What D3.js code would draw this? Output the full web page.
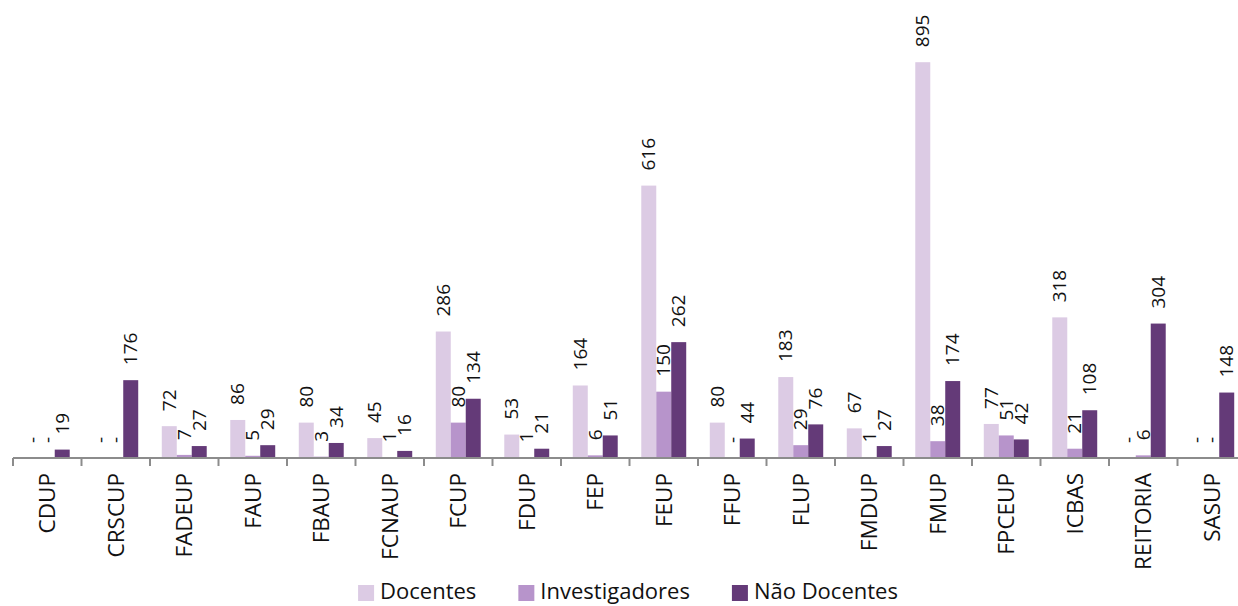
<!DOCTYPE html>
<html>
<head>
<meta charset="utf-8">
<script src="https://cdn.jsdelivr.net/npm/d3@7"></script>
<style>
  body { margin: 0; background: #fff; }
  svg { display: block; font-family: 'Open Sans', sans-serif; }
</style>
</head>
<body>
<svg id="chart" width="1238" height="606"></svg>
<script>
const categories = ['CDUP', 'CRSCUP', 'FADEUP', 'FAUP', 'FBAUP', 'FCNAUP', 'FCUP', 'FDUP', 'FEP',
  'FEUP', 'FFUP', 'FLUP', 'FMDUP', 'FMUP', 'FPCEUP', 'ICBAS', 'REITORIA', 'SASUP']
const seriesNames = ['Docentes', 'Investigadores', 'Não Docentes']
// null = no value, drawn as "-"
const docentes = [null, null, 72, 86, 80, 45, 286, 53, 164, 616, 80, 183, 67, 895, 77, 318, null, null]
const investigadores = [null, null, 7, 5, 3, 1, 80, 1, 6, 150, null, 29, 1, 38, 51, 21, 6, null]
const naoDocentes = [19, 176, 27, 29, 34, 16, 134, 21, 51, 262, 44, 76, 27, 174, 42, 108, 304, 148]
const colors = ['#dccbe4', '#b794cb', '#643a78']

const series = [docentes, investigadores, naoDocentes]
const rows = categories.map((c, i) => ({
  cat: c,
  vals: series.map((s, j) => ({ key: seriesNames[j], value: s[i], j }))
}))

const svg = d3.select('#chart')
const left = 13, bw = 68.5
const x0 = d3.scaleBand()
  .domain(categories)
  .range([left, left + bw * categories.length])
  .padding(0)
const pad = x0.bandwidth() * 0.172
const x1 = d3.scaleBand()
  .domain(seriesNames)
  .range([pad, x0.bandwidth() - pad])
const y = d3.scaleLinear().domain([0, 900]).range([458, 60])

const groups = svg.selectAll('g.cat')
  .data(rows)
  .enter()
  .append('g')
  .attr('class', 'cat')
  .attr('transform', d => `translate(${x0(d.cat)},0)`)

groups.selectAll('rect')
  .data(d => d.vals.filter(v => v.value != null))
  .enter()
  .append('rect')
  .attr('x', d => x1(d.key))
  .attr('width', x1.bandwidth())
  .attr('y', d => y(d.value))
  .attr('height', d => y(0) - y(d.value))
  .attr('fill', d => colors[d.j])

groups.selectAll('text.val')
  .data(d => d.vals)
  .enter()
  .append('text')
  .attr('class', 'val')
  .attr('transform', d => `translate(${x1(d.key) + x1.bandwidth() / 2},${y(d.value || 0) - 15}) rotate(-90)`)
  .attr('dy', '0.35em')
  .style('font-size', '19px')
  .style('fill', '#111')
  .text(d => d.value == null ? '-' : d.value)

// axis
const axis = svg.append('g')
axis.append('line')
  .attr('x1', left).attr('x2', 1238)
  .attr('y1', y(0)).attr('y2', y(0))
  .attr('stroke', '#8c8c8c').attr('stroke-width', 2)
axis.selectAll('line.tick')
  .data(categories)
  .enter()
  .append('line')
  .attr('x1', d => x0(d)).attr('x2', d => x0(d))
  .attr('y1', y(0)).attr('y2', y(0) + 8)
  .attr('stroke', '#8c8c8c').attr('stroke-width', 2)
axis.selectAll('text')
  .data(categories)
  .enter()
  .append('text')
  .attr('transform', d => `translate(${x0(d) + x0.bandwidth() / 2},473) rotate(-90)`)
  .attr('text-anchor', 'end')
  .attr('dy', '0.35em')
  .style('font-size', '22.5px')
  .style('fill', '#111')
  .text(d => d)

// legend
const legend = svg.append('g')
const items = legend.selectAll('g')
  .data(seriesNames)
  .enter()
  .append('g')
items.append('rect')
  .attr('width', 16).attr('height', 16)
  .attr('y', 585)
  .attr('fill', (d, i) => colors[i])
items.append('text')
  .attr('x', 22)
  .attr('y', 599)
  .style('font-size', '22px')
  .style('fill', '#111')
  .text(d => d)
let cx = 0
const widths = []
items.each(function() {
  widths.push(22 + this.querySelector('text').getComputedTextLength())
})
const total = d3.sum(widths) + 42 * (widths.length - 1)
cx = 628 - total / 2
items.attr('transform', (d, i) => {
  const t = `translate(${cx},0)`
  cx += widths[i] + 42
  return t
})
</script>
</body>
</html>
